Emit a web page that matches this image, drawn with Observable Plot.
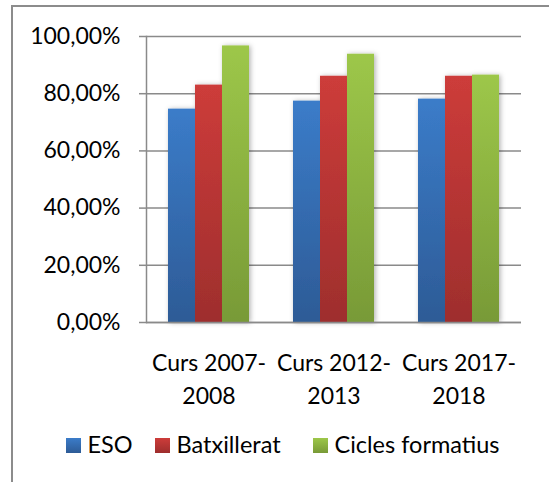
<!DOCTYPE html>
<html><head><meta charset="utf-8">
<script src="https://cdn.jsdelivr.net/npm/d3@7"></script>
<script src="https://cdn.jsdelivr.net/npm/@observablehq/plot@0.6"></script>
<style>
html,body{margin:0;padding:0;background:#fff;}
#wrap{position:relative;width:549px;height:482px;overflow:hidden;background:#fff;font-family:Lato,sans-serif;}
#border{position:absolute;left:11px;top:5px;width:800px;height:800px;border-left:2px solid #8c8c8c;border-top:2px solid #8c8c8c;}
#chart{position:absolute;left:0;top:0;}
#legend{position:absolute;top:432.6px;left:0;width:549px;height:30px;font-size:23.5px;line-height:23px;color:#000;}
.item{position:absolute;top:0;white-space:nowrap;}
.sw{display:inline-block;width:15px;height:15px;margin-right:6.5px;vertical-align:baseline;}
</style></head>
<body><div id="wrap"><div id="border"></div><div id="chart"></div><div id="legend"></div></div>
<script>
const groups = ["Curs 2007-2008", "Curs 2012-2013", "Curs 2017-2018"];
const series = ["ESO", "Batxillerat", "Cicles formatius"];
const eso = [74.6, 77.4, 78.1];
const batxillerat = [83.0, 86.1, 86.1];
const cicles = [96.7, 93.8, 86.5];
const yTicks = [0, 20, 40, 60, 80, 100];

const values = [eso, batxillerat, cicles];
const gradStops = [["#3b7cc9", "#2d5b96"], ["#cd3c3a", "#9e2e2d"], ["#9dc749", "#789a37"]];
const gradIds = series.map((s, i) => "grad" + i);
const legendLeft = [66, 155, 313];

const rows = [];
groups.forEach((g, i) => series.forEach((s, j) => rows.push({group: g, series: s, value: values[j][i]})));

const grey = "#8a8a8a";
const chart = Plot.plot({
  width: 549, height: 410,
  marginTop: 36, marginBottom: 88, marginLeft: 146, marginRight: 28,
  style: {fontFamily: "Lato, sans-serif", fontSize: "23px", color: "#000", background: "transparent", overflow: "visible"},
  fx: {domain: groups, paddingInner: 0, paddingOuter: 0, label: null},
  x: {domain: series, paddingInner: 0, paddingOuter: 0.74, axis: null},
  y: {domain: [0, 100], label: null},
  color: {domain: series, range: gradIds.map(id => `url(#${id})`)},
  marks: [
    Plot.gridY({ticks: yTicks, stroke: grey, strokeOpacity: 1, strokeWidth: 1.5}),
    Plot.barY(rows, {fx: "group", x: "series", y: "value", fill: "series"}),
    Plot.ruleY([0], {stroke: grey, strokeWidth: 1.5}),
    Plot.frame({anchor: "left", facetAnchor: "left", stroke: grey, strokeWidth: 1.5}),
    Plot.axisY({ticks: yTicks, tickSize: 7, tickPadding: 19, fontSize: 23, stroke: grey, strokeWidth: 1.5, fill: "#000", label: null,
      tickFormat: d => d.toFixed(2).replace(".", ",") + "%"}),
    Plot.axisFx({anchor: "bottom", tickSize: 0, tickPadding: 25, fontSize: 23, lineHeight: 1.43, fill: "#000", label: null,
      tickFormat: d => d.replace("-", "-\n")})
  ]
});

const svg = d3.select(chart);
const defs = svg.insert("defs", ":first-child");
gradStops.forEach(([top, bot], i) => {
  const lg = defs.append("linearGradient").attr("id", gradIds[i]).attr("x1", 0).attr("y1", 0).attr("x2", 0).attr("y2", 1);
  lg.append("stop").attr("offset", "0%").attr("stop-color", top);
  lg.append("stop").attr("offset", "100%").attr("stop-color", bot);
});
defs.append("filter").attr("id", "shadow").attr("x", "-10%").attr("y", "-10%").attr("width", "120%").attr("height", "120%")
  .append("feDropShadow").attr("dx", 1.5).attr("dy", 0.5).attr("stdDeviation", 2.5).attr("flood-color", "#000").attr("flood-opacity", 0.3);
svg.selectAll('g[aria-label="bar"]').attr("filter", "url(#shadow)");
document.getElementById("chart").appendChild(chart);

const legend = d3.select("#legend");
series.forEach((s, i) => {
  const item = legend.append("span").attr("class", "item").style("left", legendLeft[i] + "px");
  item.append("span").attr("class", "sw").style("background", `linear-gradient(${gradStops[i][0]}, ${gradStops[i][1]})`);
  item.append("span").text(s);
});
</script>
</body></html>
